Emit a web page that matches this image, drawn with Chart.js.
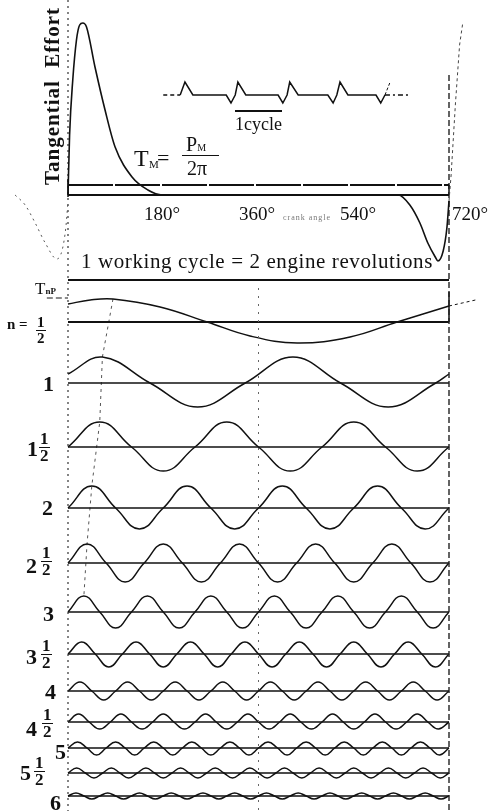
<!DOCTYPE html>
<html>
<head>
<meta charset="utf-8">
<script src="https://cdn.jsdelivr.net/npm/chart.js@4.4.1/dist/chart.umd.min.js"></script>
<style>
html, body { margin: 0; padding: 0; background: #fff; }
#wrap { position: relative; width: 490px; height: 811px; overflow: hidden; font-family: 'Liberation Serif', 'DejaVu Serif', serif; color: #111; }
canvas { position: absolute; left: 0; top: 0; }
.t { position: absolute; line-height: 1; white-space: nowrap; }
.big { font-weight: bold; font-size: 22px; }
.fr { position: absolute; display: flex; flex-direction: column; align-items: center; font-weight: bold; font-size: 17px; line-height: 15px; }
.fr span:first-child { border-bottom: 1.5px solid #111; padding: 0 1px 1px; }
.tick { font-size: 19px; top: 204px; transform: translateX(-50%); }
</style>
</head>
<body>
<div id="wrap">
  <canvas id="c" width="490" height="811"></canvas>

  <div class="t" style="left:52px;top:96px;font-size:21px;font-weight:bold;letter-spacing:1px;transform:translate(-50%,-50%) rotate(-90deg);">Tangential&nbsp;&nbsp;Effort</div>

  <div class="t" style="left:134px;top:146px;font-size:24px;">T</div>
  <div class="t" style="left:149px;top:159px;font-size:11px;">M</div>
  <div class="t" style="left:157px;top:147px;font-size:22px;">=</div>
  <div class="t" style="left:186px;top:134px;font-size:20px;">P<span style="font-size:10px;">M</span></div>
  <div class="t" style="left:182px;top:155px;width:37px;height:0;border-top:1.5px solid #111;"></div>
  <div class="t" style="left:187px;top:158px;font-size:20px;">2π</div>

  <div class="t" style="left:235px;top:110px;font-size:18px;border-top:2px solid #111;padding-top:3px;">1cycle</div>

  <div class="t tick" style="left:162px;">180°</div>
  <div class="t tick" style="left:257px;">360°</div>
  <div class="t tick" style="left:358px;">540°</div>
  <div class="t" style="left:452px;top:204px;font-size:19px;">720°</div>
  <div class="t" style="left:283px;top:214px;font-size:8px;color:#777;letter-spacing:1px;">crank angle</div>

  <div class="t" style="left:81px;top:251px;font-size:21px;letter-spacing:0.6px;">1 working cycle = 2 engine revolutions</div>

  <div class="t" style="left:35px;top:280px;font-size:17px;">T<span style="font-size:9px;font-weight:bold;">nP</span></div>

  <div class="t" style="left:7px;top:317px;font-size:15px;font-weight:bold;">n =</div>
  <div class="fr" style="left:36px;top:315px;font-size:15px;line-height:14px;"><span>1</span><span>2</span></div>

  <div class="t big" style="left:43px;top:373px;">1</div>

  <div class="t big" style="left:27px;top:438px;">1</div>
  <div class="fr" style="left:39px;top:431px;"><span>1</span><span>2</span></div>

  <div class="t big" style="left:42px;top:497px;">2</div>

  <div class="t big" style="left:26px;top:555px;">2</div>
  <div class="fr" style="left:41px;top:545px;"><span>1</span><span>2</span></div>

  <div class="t big" style="left:43px;top:603px;">3</div>

  <div class="t big" style="left:26px;top:646px;">3</div>
  <div class="fr" style="left:41px;top:638px;"><span>1</span><span>2</span></div>

  <div class="t big" style="left:45px;top:681px;">4</div>

  <div class="t big" style="left:26px;top:718px;">4</div>
  <div class="fr" style="left:42px;top:707px;"><span>1</span><span>2</span></div>

  <div class="t big" style="left:55px;top:741px;">5</div>

  <div class="t big" style="left:20px;top:762px;">5</div>
  <div class="fr" style="left:34px;top:755px;"><span>1</span><span>2</span></div>

  <div class="t big" style="left:50px;top:792px;">6</div>
</div>

<script>
// tangential effort over one working cycle (crank angle in degrees)
const effortDeg = [0, 3, 9, 16, 22, 28, 35, 51, 70, 89, 121, 151, 178, 360, 624, 646, 665, 680, 694, 699, 709, 716, 720];
const effortVal = [0, 60, 115, 155, 170, 172, 168, 128, 85, 48, 18, 5, 0, 0, 0, -10, -28, -48, -62, -66, -56, -33, -6];
const prevDeg = [-100, -81, -62, -43, -21, -11, -4, 0];
const prevVal = [0, -10, -28, -48, -64, -55, -32, -6];
const nextDeg = [720, 724, 732, 740, 746];
const nextVal = [-6, 20, 90, 150, 172];
const tmLevel = 10;

// small multi-cylinder sketch
const insetDeg = [212, 221, 236, 299, 308, 316, 321, 336, 397, 406, 414, 419, 435, 491, 501, 508, 514, 529, 582, 591, 599];
const insetVal = [0, 13, 0, 0, -8, 0, 13, 0, 0, -8, 0, 13, 0, 0, -8, 0, 13, 0, 0, -8, 0];

// harmonic orders
const orders = [0.5, 1, 1.5, 2, 2.5, 3, 3.5, 4, 4.5, 5, 5.5, 6];

const halfDeg = [0, 42, 85, 174, 263, 344, 433, 533, 622, 720];
const halfVal = [18, 22, 23, 15, 0, -14, -21, -15, 0, 16];
const halfTailDeg = [720, 745, 770];
const halfTailVal = [16, 19, 22];
const firstDeg = [0, 65, 155, 245, 335, 425, 515, 605, 695, 720];
const firstVal = [9, 26, 0, -24, 0, 26, 0, -24, 0, 9];

// values at quarter-period steps, from 0 deg
const h15 = [0, 25, 0, -24, 0, 25, 0, -24, 0, 25, 0, -24, 0];
const h2 = [0, 22, 0, -21, 0, 22, 0, -21, 0, 22, 0, -21, 0, 22, 0, -21, 0];
const h25 = [0, 19, 0, -19, 0, 19, 0, -19, 0, 19, 0, -19, 0, 19, 0, -19, 0, 19, 0, -19, 0];
const h3 = [0, 16, 0, -16, 0, 16, 0, -16, 0, 16, 0, -16, 0, 16, 0, -16, 0, 16, 0, -16, 0, 16, 0, -16, 0];
const h35 = [0, 12, 0, -13, 0, 12, 0, -13, 0, 12, 0, -13, 0, 12, 0, -13, 0, 12, 0, -13, 0, 12, 0, -13, 0, 12, 0, -13, 0];
const h4 = [0, 9, 0, -9, 0, 9, 0, -9, 0, 9, 0, -9, 0, 9, 0, -9, 0, 9, 0, -9, 0, 9, 0, -9, 0, 9, 0, -9, 0, 9, 0, -9, 0];
const h45 = [0, 8, 0, -7, 0, 8, 0, -7, 0, 8, 0, -7, 0, 8, 0, -7, 0, 8, 0, -7, 0, 8, 0, -7, 0, 8, 0, -7, 0, 8, 0, -7, 0, 8, 0, -7, 0];
const h5 = [0, 6, 0, -7, 0, 6, 0, -7, 0, 6, 0, -7, 0, 6, 0, -7, 0, 6, 0, -7, 0, 6, 0, -7, 0, 6, 0, -7, 0, 6, 0, -7, 0, 6, 0, -7, 0, 6, 0, -7, 0];
const h55 = [0, 5, 0, -5, 0, 5, 0, -5, 0, 5, 0, -5, 0, 5, 0, -5, 0, 5, 0, -5, 0, 5, 0, -5, 0, 5, 0, -5, 0, 5, 0, -5, 0, 5, 0, -5, 0, 5, 0, -5, 0, 5, 0, -5, 0];
const h6 = [0, 3, 0, -3, 0, 3, 0, -3, 0, 3, 0, -3, 0, 3, 0, -3, 0, 3, 0, -3, 0, 3, 0, -3, 0, 3, 0, -3, 0, 3, 0, -3, 0, 3, 0, -3, 0, 3, 0, -3, 0, 3, 0, -3, 0, 3, 0, -3, 0];
const quarterVals = [h15, h2, h25, h3, h35, h4, h45, h5, h55, h6];

// layout (pixels)
const W = 490, H = 811;
const x0px = 68, x720px = 449;
const effortBase = 195, insetBase = 95, titleLine = 280;
const rowBase = [322, 383, 447, 508, 563, 612, 654, 691, 722, 748, 773, 796];

const k = (x720px - x0px) / 720;
const pts = (xs, ys) => xs.map((x, i) => ({ x: x, y: ys[i] }));
const axisAt = b => ({ type: 'linear', display: false, min: -(H - b), max: b });
const line = (data, axis, extra) => Object.assign({
  data: data, yAxisID: axis, borderColor: '#111', borderWidth: 1.5,
  pointRadius: 0, fill: false, tension: 0
}, extra || {});

const scales = {
  x: { type: 'linear', display: false, min: -x0px / k, max: 720 + (W - x720px) / k },
  yT: axisAt(effortBase),
  yI: axisAt(insetBase),
  yP: { type: 'linear', display: false, min: 0, max: H, reverse: true }
};
rowBase.forEach((b, i) => { scales['yR' + i] = axisAt(b); });

const datasets = [];
// top panel
datasets.push(line(pts(effortDeg, effortVal), 'yT', { cubicInterpolationMode: 'monotone', borderWidth: 1.6 }));
datasets.push(line(pts(prevDeg, prevVal), 'yT', { cubicInterpolationMode: 'monotone', borderWidth: 1, borderDash: [2, 4], borderColor: '#555' }));
datasets.push(line(pts(nextDeg, nextVal), 'yT', { borderWidth: 1, borderDash: [3, 3], borderColor: '#444' }));
datasets.push(line(pts([0, 720], [0, 0]), 'yT', { borderWidth: 2 }));
datasets.push(line(pts([0, 720], [tmLevel, tmLevel]), 'yT', { borderWidth: 2, borderDash: [45, 2] }));
datasets.push(line(pts([0, 0], [-2, tmLevel + 6]), 'yT', { borderWidth: 1.5 }));
datasets.push(line(pts([720, 720], [0, tmLevel]), 'yT', { borderWidth: 1.5 }));

// inset sketch
datasets.push(line(pts(insetDeg, insetVal), 'yI', { borderWidth: 1.5 }));
datasets.push(line(pts([180, 212], [0, 0]), 'yI', { borderWidth: 1.3, borderDash: [4, 3] }));
datasets.push(line(pts([599, 646], [0, 0]), 'yI', { borderWidth: 1.3, borderDash: [5, 3, 2, 3] }));
datasets.push(line(pts([599, 608], [0, 12]), 'yI', { borderWidth: 1, borderDash: [3, 2] }));

// guide lines
datasets.push(line(pts([0, 0], [0, H]), 'yP', { borderWidth: 1.2, borderDash: [2, 4], borderColor: '#333' }));
datasets.push(line(pts([720, 720], [75, H]), 'yP', { borderWidth: 1.4, borderDash: [6, 3], borderColor: '#222' }));
datasets.push(line(pts([360, 360], [titleLine + 8, H]), 'yP', { borderWidth: 1, borderDash: [2, 6], borderColor: '#666' }));
datasets.push(line(pts([0, 720], [titleLine, titleLine]), 'yP', { borderWidth: 2 }));
datasets.push(line(pts([-40, 0], [rowBase[0] - 24, rowBase[0] - 24]), 'yP', { borderWidth: 1.5, borderDash: [6, 3], borderColor: '#666' }));
datasets.push(line(pts([720, 720], [rowBase[0] - 30, rowBase[0]]), 'yP', { borderWidth: 1.5 }));

// harmonic rows
datasets.push(line(pts(halfDeg, halfVal), 'yR0', { tension: 0.4 }));
datasets.push(line(pts(halfTailDeg, halfTailVal), 'yR0', { borderWidth: 1, borderDash: [3, 3] }));
datasets.push(line(pts(firstDeg, firstVal), 'yR1', { tension: 0.4 }));
const firstPeaks = [{ x: 85, y: rowBase[0] - 23 }, { x: 65, y: rowBase[1] - 26 }];
quarterVals.forEach((vals, j) => {
  const i = j + 2;
  const step = 90 / orders[i];
  datasets.push(line(vals.map((v, n) => ({ x: n * step, y: v })), 'yR' + i, { tension: 0.45, borderWidth: 1.5 }));
  if (i <= 5) firstPeaks.push({ x: step, y: rowBase[i] - vals[1] });
});
rowBase.forEach((b, i) => {
  datasets.push(line(pts([0, 720], [0, 0]), 'yR' + i, { borderWidth: i === 0 ? 1.8 : 1.3 }));
});
// dashed line through the first crests
datasets.push(line(firstPeaks, 'yP', { borderWidth: 1, borderDash: [3, 4], borderColor: '#555' }));

new Chart(document.getElementById('c'), {
  type: 'line',
  data: { datasets: datasets },
  options: {
    responsive: false,
    animation: false,
    devicePixelRatio: 1,
    events: [],
    layout: { padding: 0 },
    plugins: { legend: { display: false }, tooltip: { enabled: false }, title: { display: false } },
    scales: scales
  }
});
</script>
</body>
</html>
